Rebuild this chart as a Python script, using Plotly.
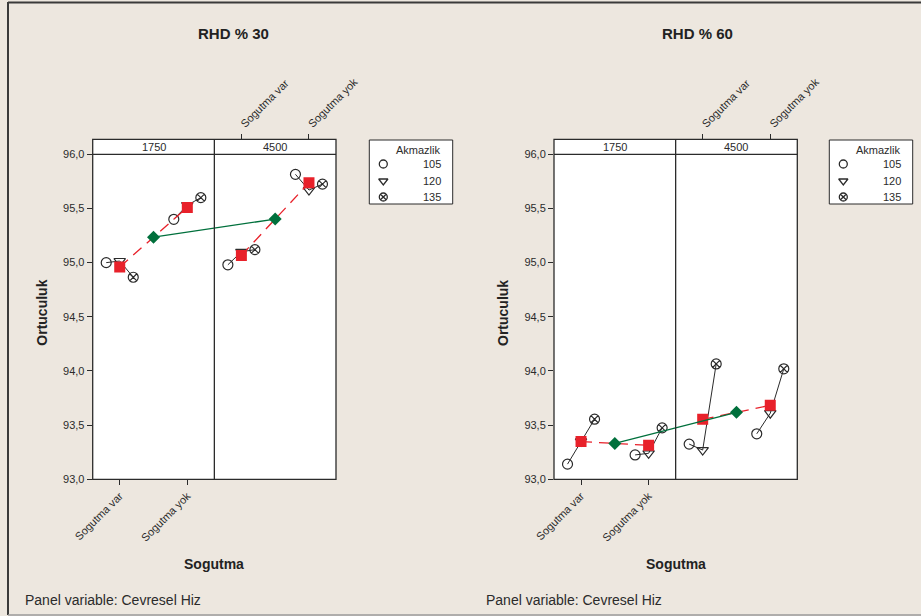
import plotly.graph_objects as go

W, H = 921, 616

# ---- data -------------------------------------------------------------
cooling = ["Sogutma var", "Sogutma yok"]
speeds = ["1750", "4500"]
akmazlik = ["105", "120", "135"]
titles = ["RHD % 30", "RHD % 60"]
y_ticks = [93.0, 93.5, 94.0, 94.5, 95.0, 95.5, 96.0]
y_ticktext = ["93,0", "93,5", "94,0", "94,5", "95,0", "95,5", "96,0"]

# Ortuculuk means for Akmazlik 105, 120, 135 in each Cevresel Hiz / Sogutma cell
rhd30_1750_var = [95.00, 95.015, 94.865]
rhd30_1750_yok = [95.40, 95.53, 95.60]
rhd30_4500_var = [94.98, 95.10, 95.12]
rhd30_4500_yok = [95.815, 95.67, 95.725]

rhd60_1750_var = [93.14, 93.35, 93.555]
rhd60_1750_yok = [93.225, 93.24, 93.475]
rhd60_4500_var = [93.325, 93.27, 94.065]
rhd60_4500_yok = [93.42, 93.61, 94.02]

rhd30 = [[rhd30_1750_var, rhd30_1750_yok], [rhd30_4500_var, rhd30_4500_yok]]
rhd60 = [[rhd60_1750_var, rhd60_1750_yok], [rhd60_4500_var, rhd60_4500_yok]]

# ---- style -------------------------------------------------------------
FONT = "Liberation Sans, Arial, sans-serif"
BG = "#EDE7DF"
INK = "#2b2b2b"
RED = "#E8212A"
GREEN = "#00703C"
SYMBOLS = ["circle-open", "triangle-down-open", "circle-x-open"]

PANEL_W = 9          # slot units per panel
GROUP_CENTER = [2, 7]
OFFSET = [-1, 0, 1]

Y_TOP, Y_BOT, STRIP_TOP = 154.3, 479.3, 139.3
halves = [
    dict(data=rhd30, x0=92.7, x1=336.0, title_x=233, leg_x0=369.3),
    dict(data=rhd60, x0=554.0, x1=797.3, title_x=697, leg_x0=829.3),
]
LEG_W, LEG_TOP, LEG_BOT = 83.4, 140.0, 204.0


def px(x):
    return x / W


def py(y):
    return 1 - y / H


fig = go.Figure()
shapes, annotations = [], []

for h, half in enumerate(halves):
    xa = "x" if h == 0 else f"x{h * 3 + 1}"
    ya = "y" if h == 0 else f"y{h * 3 + 1}"
    xtop = f"x{h * 3 + 2}"
    xl, yl = f"x{h * 3 + 3}", f"y{h * 3 + 3}"
    data = half["data"]

    panel_means = []
    for p in range(len(speeds)):
        group_x, group_means = [], []
        for g in range(len(cooling)):
            vals = data[p][g]
            xs = [p * PANEL_W + GROUP_CENTER[g] + o for o in OFFSET]
            fig.add_trace(go.Scatter(
                x=xs, y=vals, xaxis=xa, yaxis=ya, mode="lines+markers",
                line=dict(color=INK, width=1),
                marker=dict(symbol=SYMBOLS, size=10, color=INK,
                            line=dict(width=1.2, color=INK)),
                showlegend=False, hoverinfo="skip"))
            group_x.append(p * PANEL_W + GROUP_CENTER[g])
            group_means.append(sum(vals) / len(vals))
        # Sogutma means within the panel
        fig.add_trace(go.Scatter(
            x=group_x, y=group_means, xaxis=xa, yaxis=ya, mode="lines",
            line=dict(color=RED, width=1.3, dash="11px,7px"),
            showlegend=False, hoverinfo="skip"))
        fig.add_trace(go.Scatter(
            x=group_x, y=group_means, xaxis=xa, yaxis=ya, mode="markers",
            marker=dict(symbol="square", size=11, color=RED),
            showlegend=False, hoverinfo="skip"))
        panel_means.append((p * PANEL_W + sum(GROUP_CENTER) / 2,
                            sum(group_means) / len(group_means)))

    # Cevresel Hiz means across panels (on the top axis, which shares the x range)
    fig.add_trace(go.Scatter(
        x=[m[0] for m in panel_means], y=[m[1] for m in panel_means],
        xaxis=xtop, yaxis=ya, mode="lines+markers",
        line=dict(color=GREEN, width=1.3),
        marker=dict(symbol="diamond", size=10, color=GREEN),
        showlegend=False, hoverinfo="skip"))

    # legend glyphs
    leg_rows = [24, 41, 57]
    fig.add_trace(go.Scatter(
        x=[14, 14, 14], y=leg_rows, xaxis=xl, yaxis=yl, mode="markers",
        marker=dict(symbol=SYMBOLS, size=8, color=INK, line=dict(width=1.3, color=INK)),
        showlegend=False, hoverinfo="skip"))

    x0, x1 = half["x0"], half["x1"]
    xmax = PANEL_W * len(speeds)
    tick_font = dict(family=FONT, size=11, color=INK)
    lay = {}
    lay["xaxis" if h == 0 else f"xaxis{h * 3 + 1}"] = dict(
        domain=[px(x0), px(x1)], range=[0, xmax], anchor=ya,
        tickvals=[GROUP_CENTER[g] for g in range(2)], ticktext=cooling,
        tickangle=-45, ticks="outside", ticklen=5, tickcolor=INK, tickwidth=1,
        tickfont=tick_font, showgrid=False, zeroline=False, showline=False,
        automargin=False)
    lay[f"xaxis{h * 3 + 2}"] = dict(
        domain=[px(x0), px(x1)], range=[0, xmax], overlaying=xa, side="top",
        anchor="free", position=py(STRIP_TOP),
        tickvals=[PANEL_W + GROUP_CENTER[g] for g in range(2)], ticktext=cooling,
        tickangle=-45, ticks="outside", ticklen=5, tickcolor=INK, tickwidth=1,
        tickfont=tick_font, showgrid=False, zeroline=False, showline=False,
        automargin=False)
    lay["yaxis" if h == 0 else f"yaxis{h * 3 + 1}"] = dict(
        domain=[py(Y_BOT), py(Y_TOP)], range=[93, 96], anchor=xa,
        tickvals=y_ticks, ticktext=y_ticktext, ticks="outside", ticklen=5,
        tickcolor=INK, tickwidth=1, tickfont=tick_font,
        showgrid=False, zeroline=False, showline=False, automargin=False)
    lx0 = half["leg_x0"]
    lay[f"xaxis{h * 3 + 3}"] = dict(
        domain=[px(lx0), px(lx0 + LEG_W)], range=[0, LEG_W], anchor=yl,
        visible=False, automargin=False)
    lay[f"yaxis{h * 3 + 3}"] = dict(
        domain=[py(LEG_BOT), py(LEG_TOP)], range=[LEG_BOT - LEG_TOP, 0], anchor=xl,
        visible=False, automargin=False)
    fig.update_layout(**lay)

    # panel frame, strip and divider
    shapes.append(dict(type="rect", xref="paper", yref="paper",
                       x0=px(x0), x1=px(x1), y0=py(STRIP_TOP), y1=py(Y_TOP),
                       fillcolor="white", line=dict(width=0), layer="below"))
    shapes.append(dict(type="rect", xref="paper", yref="paper",
                       x0=px(x0), x1=px(x1), y0=py(Y_BOT), y1=py(STRIP_TOP),
                       line=dict(color=INK, width=1.3)))
    shapes.append(dict(type="line", xref="paper", yref="paper",
                       x0=px(x0), x1=px(x1), y0=py(Y_TOP), y1=py(Y_TOP),
                       line=dict(color=INK, width=1.3)))
    shapes.append(dict(type="line", xref=xa, yref="paper",
                       x0=PANEL_W, x1=PANEL_W, y0=py(Y_BOT), y1=py(STRIP_TOP),
                       line=dict(color=INK, width=1.3)))
    for p, s in enumerate(speeds):
        annotations.append(dict(text=s, xref=xa, yref="paper",
                                x=p * PANEL_W + PANEL_W / 2, y=py((STRIP_TOP + Y_TOP) / 2),
                                showarrow=False, font=dict(family=FONT, size=11, color=INK),
                                xanchor="center", yanchor="middle"))

    # legend box and texts
    shapes.append(dict(type="rect", xref="paper", yref="paper",
                       x0=px(lx0), x1=px(lx0 + LEG_W), y0=py(LEG_BOT), y1=py(LEG_TOP),
                       fillcolor="white", line=dict(color=INK, width=1), layer="below"))
    annotations.append(dict(text="Akmazlik", xref="paper", yref="paper",
                            x=px(lx0 + 74), y=py(150), xanchor="right", yanchor="middle",
                            showarrow=False, font=dict(family=FONT, size=11, color=INK)))
    for r, lab in zip(leg_rows, akmazlik):
        annotations.append(dict(text=lab, xref="paper", yref="paper",
                                x=px(lx0 + 74), y=py(LEG_TOP + r), xanchor="right",
                                yanchor="middle", showarrow=False,
                                font=dict(family=FONT, size=11, color=INK)))

    # titles
    annotations.append(dict(text="<b>" + titles[h] + "</b>", xref="paper", yref="paper",
                            x=px(half["title_x"]), y=py(33), xanchor="center",
                            yanchor="middle", showarrow=False,
                            font=dict(family=FONT, size=15, color="#222")))
    annotations.append(dict(text="<b>Sogutma</b>", xref="paper", yref="paper",
                            x=px((x0 + x1) / 2), y=py(564), xanchor="center",
                            yanchor="middle", showarrow=False,
                            font=dict(family=FONT, size=14, color="#222")))
    annotations.append(dict(text="<b>Ortuculuk</b>", xref="paper", yref="paper",
                            x=px(x0 - 51), y=py(313), xanchor="center",
                            yanchor="middle", textangle=-90, showarrow=False,
                            font=dict(family=FONT, size=14, color="#222")))
    annotations.append(dict(text="Panel variable: Cevresel Hiz", xref="paper",
                            yref="paper", x=px(23 if h == 0 else 484), y=py(600),
                            xanchor="left", yanchor="middle", showarrow=False,
                            font=dict(family=FONT, size=14, color=INK)))

# outer frame
shapes.append(dict(type="line", xref="paper", yref="paper", x0=px(8), x1=1,
                   y0=py(2.5), y1=py(2.5), line=dict(color="#3a3a3a", width=2)))
shapes.append(dict(type="line", xref="paper", yref="paper", x0=px(8), x1=px(8),
                   y0=py(2), y1=py(615), line=dict(color="#3a3a3a", width=2)))
shapes.append(dict(type="line", xref="paper", yref="paper", x0=px(8), x1=1,
                   y0=py(615), y1=py(615), line=dict(color="#9a9a9a", width=1.5)))

fig.update_layout(
    width=W, height=H, margin=dict(l=0, r=0, t=0, b=0, autoexpand=False),
    paper_bgcolor=BG, plot_bgcolor="white",
    shapes=shapes, annotations=annotations, showlegend=False,
    font=dict(family=FONT, color=INK),
)

fig.write_html("out.html", include_plotlyjs=True, config={"displayModeBar": False})
